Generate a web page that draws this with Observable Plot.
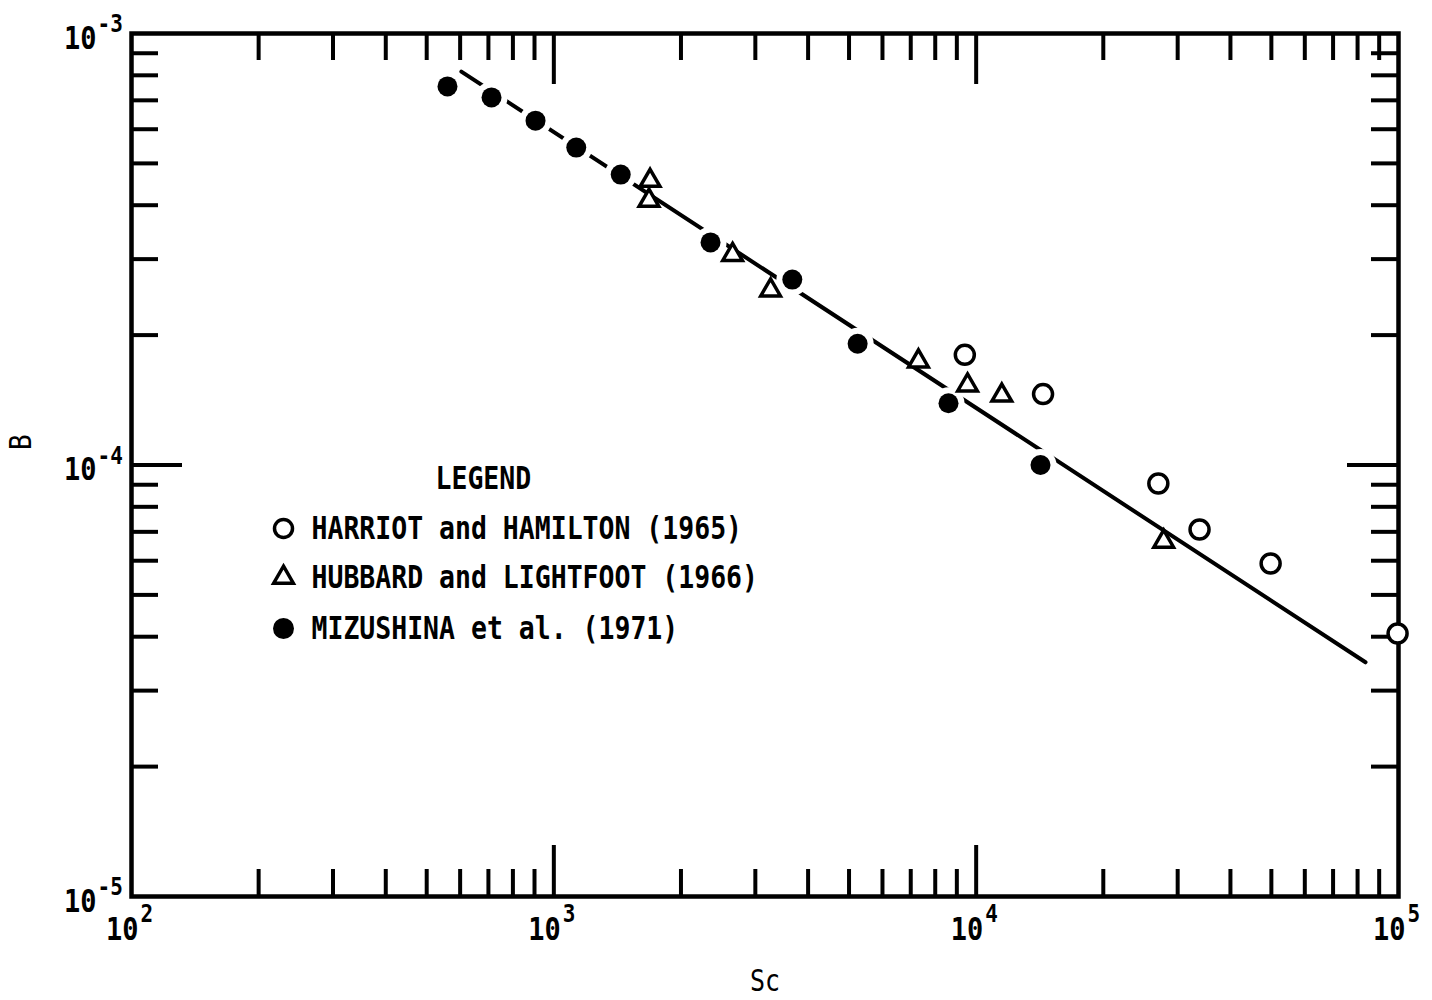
<!DOCTYPE html>
<html>
<head>
<meta charset="utf-8">
<script src="https://cdn.jsdelivr.net/npm/d3@7"></script>
<script src="https://cdn.jsdelivr.net/npm/@observablehq/plot@0.6"></script>
<style>
  html, body { margin: 0; padding: 0; background: #fff; }
  #chart svg { display: block; }
</style>
</head>
<body>
<div id="chart"></div>
<script>
// Mass-transfer coefficient B against Schmidt number Sc (log-log)

// HARRIOT and HAMILTON (1965) — open circles
const harriotSc = [9400, 14400, 27000, 33800, 49800, 99500];
const harriotB  = [1.80e-4, 1.46e-4, 9.06e-5, 7.09e-5, 5.91e-5, 4.07e-5];

// HUBBARD and LIGHTFOOT (1966) — open triangles
const hubbardSc = [1690, 1680, 2650, 3260, 7300, 9540, 11500, 27800];
const hubbardB  = [4.56e-4, 4.10e-4, 3.07e-4, 2.54e-4, 1.74e-4, 1.53e-4, 1.45e-4, 6.65e-5];

// MIZUSHINA et al. (1971) — filled circles
const mizushinaSc = [560, 712, 905, 1130, 1440, 2350, 3670, 5240, 8600, 14200];
const mizushinaB  = [7.54e-4, 7.11e-4, 6.28e-4, 5.44e-4, 4.71e-4, 3.28e-4, 2.69e-4, 1.91e-4, 1.39e-4, 1.00e-4];

// Correlation line end points
const lineSc = [604, 83540];
const lineB  = [8.16e-4, 3.49e-5];

// Axis ticks and labels
const xMajor = [1e2, 1e3, 1e4, 1e5];
const xExponents = ["2", "3", "4", "5"];
const yMajor = [1e-3, 1e-4, 1e-5];
const yExponents = ["-3", "-4", "-5"];
const minorSteps = [2, 3, 4, 5, 6, 7, 8, 9];
const xInnerMajor = [1e3, 1e4];
const yInnerMajor = [1e-4];
const xMinor = [1e2, 1e3, 1e4].flatMap(d => minorSteps.map(m => d * m));
const yMinor = [1e-5, 1e-4].flatMap(d => minorSteps.map(m => d * m));

const xTitle = "Sc";
const yTitle = "B";
const legendTitle = "LEGEND";
const seriesNames = [
  "HARRIOT and HAMILTON (1965)",
  "HUBBARD and LIGHTFOOT (1966)",
  "MIZUSHINA et al. (1971)"
];

const toRows = (xs, ys) => xs.map((x, i) => ({Sc: x, B: ys[i]}));
const harriot = toRows(harriotSc, harriotB);
const hubbard = toRows(hubbardSc, hubbardB);
const mizushina = toRows(mizushinaSc, mizushinaB);
const correlation = toRows(lineSc, lineB);

// Layout
const W = 1432, H = 1000;
const M = {top: 33, right: 34, bottom: 104, left: 131};
const frameW = W - M.left - M.right;
const frameH = H - M.top - M.bottom;
const minorLen = 27, majorLen = 51;
const font = "DejaVu Sans Mono";
const ink = "#000";

const textStyle = {fontFamily: font, fontWeight: "bold", fill: ink, lineAnchor: "middle"};

const legendRowY = [495, 544, 595];
const symbolOf = [
  {symbol: "circle", fill: "white", stroke: ink, strokeWidth: 3.5, r: 9},
  {symbol: "triangle", fill: "white", stroke: ink, strokeWidth: 3.5, r: 7.3},
  {symbol: "circle", fill: ink, stroke: "none", r: 10.5}
];

const chart = Plot.plot({
  width: W,
  height: H,
  marginTop: M.top,
  marginRight: M.right,
  marginBottom: M.bottom,
  marginLeft: M.left,
  style: {background: "white", color: ink, fontFamily: font, overflow: "visible"},
  x: {type: "log", domain: [1e2, 1e5], axis: null},
  y: {type: "log", domain: [1e-5, 1e-3], axis: null},
  marks: [
    // inward ticks on all four sides
    Plot.ruleX(xMinor, {x: d => d, insetTop: frameH - minorLen, stroke: ink, strokeWidth: 4}),
    Plot.ruleX(xMinor, {x: d => d, insetBottom: frameH - minorLen, stroke: ink, strokeWidth: 4}),
    Plot.ruleX(xInnerMajor, {x: d => d, insetTop: frameH - majorLen, stroke: ink, strokeWidth: 4}),
    Plot.ruleX(xInnerMajor, {x: d => d, insetBottom: frameH - majorLen, stroke: ink, strokeWidth: 4}),
    Plot.ruleY(yMinor, {y: d => d, insetRight: frameW - minorLen, stroke: ink, strokeWidth: 4}),
    Plot.ruleY(yMinor, {y: d => d, insetLeft: frameW - minorLen, stroke: ink, strokeWidth: 4}),
    Plot.ruleY(yInnerMajor, {y: d => d, insetRight: frameW - majorLen, stroke: ink, strokeWidth: 4}),
    Plot.ruleY(yInnerMajor, {y: d => d, insetLeft: frameW - majorLen, stroke: ink, strokeWidth: 4}),
    Plot.frame({stroke: ink, strokeWidth: 4.5}),

    // tick labels: base 10 with a raised exponent
    Plot.text(xMajor, {x: d => d, frameAnchor: "bottom", text: () => "10", textAnchor: "end",
      dx: 7, dy: 33, fontSize: 27, ...textStyle}),
    Plot.text(xMajor, {x: d => d, frameAnchor: "bottom", text: (d, i) => xExponents[i], textAnchor: "start",
      dx: 9, dy: 18, fontSize: 21, ...textStyle}),
    Plot.text(yMajor, {y: d => d, frameAnchor: "left", text: () => "10", textAnchor: "end",
      dx: -35, dy: 5, fontSize: 27, ...textStyle}),
    Plot.text(yMajor, {y: d => d, frameAnchor: "left", text: (d, i) => yExponents[i], textAnchor: "start",
      dx: -34, dy: -9, fontSize: 21, ...textStyle}),

    // axis titles
    Plot.text([xTitle], {frameAnchor: "bottom", dy: 85, fontSize: 25, ...textStyle, fontWeight: "normal"}),
    Plot.text([yTitle], {frameAnchor: "left", rotate: -90, dx: -110, dy: -15, fontSize: 26, ...textStyle, fontWeight: "normal"}),

    // correlation line, interrupted around the filled markers
    Plot.line(correlation, {x: "Sc", y: "B", stroke: ink, strokeWidth: 4}),
    Plot.dot(mizushina, {x: "Sc", y: "B", r: 16, fill: "white", stroke: "none"}),
    Plot.dot(mizushina, {x: "Sc", y: "B", r: 10, fill: ink, stroke: "none"}),
    Plot.dot(hubbard, {x: "Sc", y: "B", symbol: "triangle", r: 7.3, fill: "white", stroke: ink, strokeWidth: 3.5}),
    Plot.dot(harriot, {x: "Sc", y: "B", symbol: "circle", r: 9.5, fill: "white", stroke: ink, strokeWidth: 3.5}),

    // legend
    Plot.text([legendTitle], {frameAnchor: "top-left", textAnchor: "start", dx: 304, dy: 445, fontSize: 26.5, ...textStyle}),
    ...seriesNames.map((name, i) =>
      Plot.text([name], {frameAnchor: "top-left", textAnchor: "start", dx: 180, dy: legendRowY[i], fontSize: 26.5, ...textStyle})),
    ...seriesNames.map((name, i) =>
      Plot.dot([name], {frameAnchor: "top-left", dx: 152, dy: legendRowY[i], ...symbolOf[i]}))
  ]
});

// The lettering is a tall, narrow typewriter face: stretch each label vertically about its anchor.
chart.querySelectorAll("text").forEach(t => {
  const tr = t.getAttribute("transform");
  if (tr) t.setAttribute("transform", tr + " scale(1,1.18)");
});

document.getElementById("chart").appendChild(chart);
</script>
</body>
</html>
